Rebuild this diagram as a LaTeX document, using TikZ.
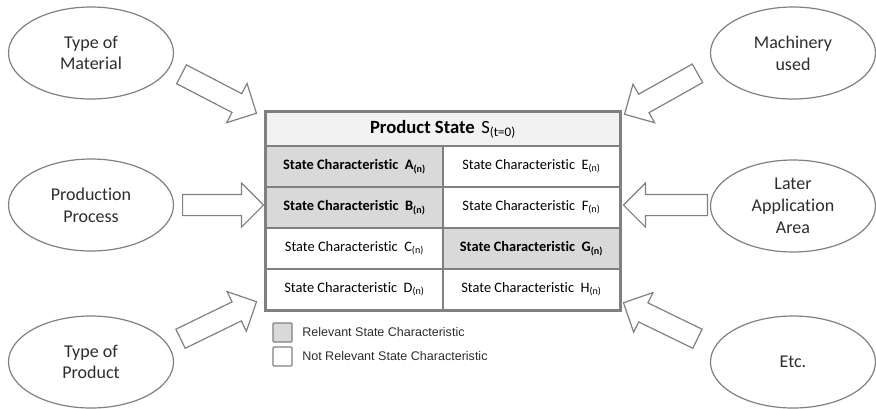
\documentclass[tikz,border=0pt]{standalone}
\usepackage{fontspec}
\setmainfont{Carlito}[Ligatures=NoCommon]
\newfontfamily\legendfont{Liberation Sans}
\usepackage{tikz}
\usetikzlibrary{shapes.geometric}
\usetikzlibrary{shapes.arrows}
\usetikzlibrary{calc}

\definecolor{edgegray}{RGB}{128,128,128}
\definecolor{relgray}{RGB}{217,217,217}
\definecolor{headgray}{RGB}{242,242,242}
\definecolor{txtgray}{RGB}{45,45,45}

\newcommand{\charidx}[1]{\ \ #1\textsubscript{(n)}}

\tikzset{
  influence/.style={ellipse, draw=edgegray, line width=0.9pt, fill=white,
    minimum width=123.75pt, minimum height=69pt, inner sep=0pt, align=center,
    text=txtgray, font=\fontsize{13.5}{16.3}\selectfont},
  blockarrow/.style={single arrow, draw=edgegray, line width=0.9pt, fill=white,
    inner xsep=0pt, inner ysep=7.5pt, minimum width=0pt,
    single arrow head extend=8.6pt, anchor=tail},
  cell/.style={rectangle, draw=edgegray, line width=1.3pt, fill=white,
    minimum width=132.75pt, minimum height=30.75pt, inner sep=0pt,
    text=black, font=\fontsize{10.8}{12}\selectfont},
  relcell/.style={cell, fill=relgray, font=\fontsize{10.8}{12}\selectfont\bfseries},
  legbox/.style={rectangle, draw=edgegray, line width=0.9pt, rounded corners=0.8pt,
    minimum size=14.25pt, inner sep=0pt},
  legtext/.style={anchor=west, inner sep=0pt, text=txtgray,
    font=\legendfont\fontsize{9.4}{11}\selectfont}
}

\begin{document}
\begin{tikzpicture}[x=0.75pt,y=0.75pt,yscale=-1,xscale=1]
\useasboundingbox (0,0) rectangle (876,408);

% Influencing factors
\node[influence] (material) at (91,53) {Type of\\Material};
\node[influence] (process) at (91,205) {Production\\Process};
\node[influence] (product) at (91,362) {Type of\\Product};
\node[influence] (machinery) at (793,53) {Machinery\\used};
\node[influence] (later) at (793,206) {Later\\Application\\Area};
\node[influence] (etc) at (793,362) {Etc.};

% Product state table
\node[cell, fill=headgray, minimum width=265.5pt, minimum height=25.5pt] (title) at (443,129)
  {{\fontsize{14}{16}\selectfont\bfseries Product State}\ \ {\fontsize{14}{16}\selectfont S\textsubscript{(t=0)}}};
\node[relcell] (cellA) at (354.5,166.5) {State Characteristic\charidx{A}};
\node[relcell] (cellB) at (354.5,207.5) {State Characteristic\charidx{B}};
\node[cell] (cellC) at (354.5,248.5) {State Characteristic\charidx{C}};
\node[cell] (cellD) at (354.5,289.5) {State Characteristic\charidx{D}};
\node[cell] (cellE) at (531.5,166.5) {State Characteristic\charidx{E}};
\node[cell] (cellF) at (531.5,207.5) {State Characteristic\charidx{F}};
\node[relcell] (cellG) at (531.5,248.5) {State Characteristic\charidx{G}};
\node[cell] (cellH) at (531.5,289.5) {State Characteristic\charidx{H}};
\draw[edgegray, line width=1.6pt] (title.north west) rectangle (cellH.south east);

% Legend
\node[legbox, fill=relgray] (legRel) at (282.5,332.5) {};
\node[legbox, fill=white] (legNot) at (282.5,356.5) {};
\node[legtext] (legRelTxt) at (302,332.5) {Relevant State Characteristic};
\node[legtext] (legNotTxt) at (302,356.5) {Not Relevant State Characteristic};

% Block arrows towards the table
\coordinate (matTail) at (181,74);
\coordinate (matTip) at (256,113);
\coordinate (procTail) at (182,205);
\coordinate (procTip) at (263,205);
\coordinate (prodTail) at (180,339);
\coordinate (prodTip) at (256,302);
\coordinate (machTail) at (698,73);
\coordinate (machTip) at (625,114);
\coordinate (laterTail) at (708,205);
\coordinate (laterTip) at (624,205);
\coordinate (etcTail) at (698,339);
\coordinate (etcTip) at (624,303);

% yscale=-1 mirrors the node rotation, hence the minus sign
\foreach \from/\to/\nm in {matTail/matTip/arrMat, procTail/procTip/arrProc,
    prodTail/prodTip/arrProd, machTail/machTip/arrMach,
    laterTail/laterTip/arrLater, etcTail/etcTip/arrEtc}
  \path let \p1=($(\to)-(\from)$), \n1={-atan2(\y1,\x1)}, \n2={veclen(\x1,\y1)} in
    node[blockarrow, rotate=\n1, minimum height=\n2] (\nm) at (\from) {};

\end{tikzpicture}
\end{document}
